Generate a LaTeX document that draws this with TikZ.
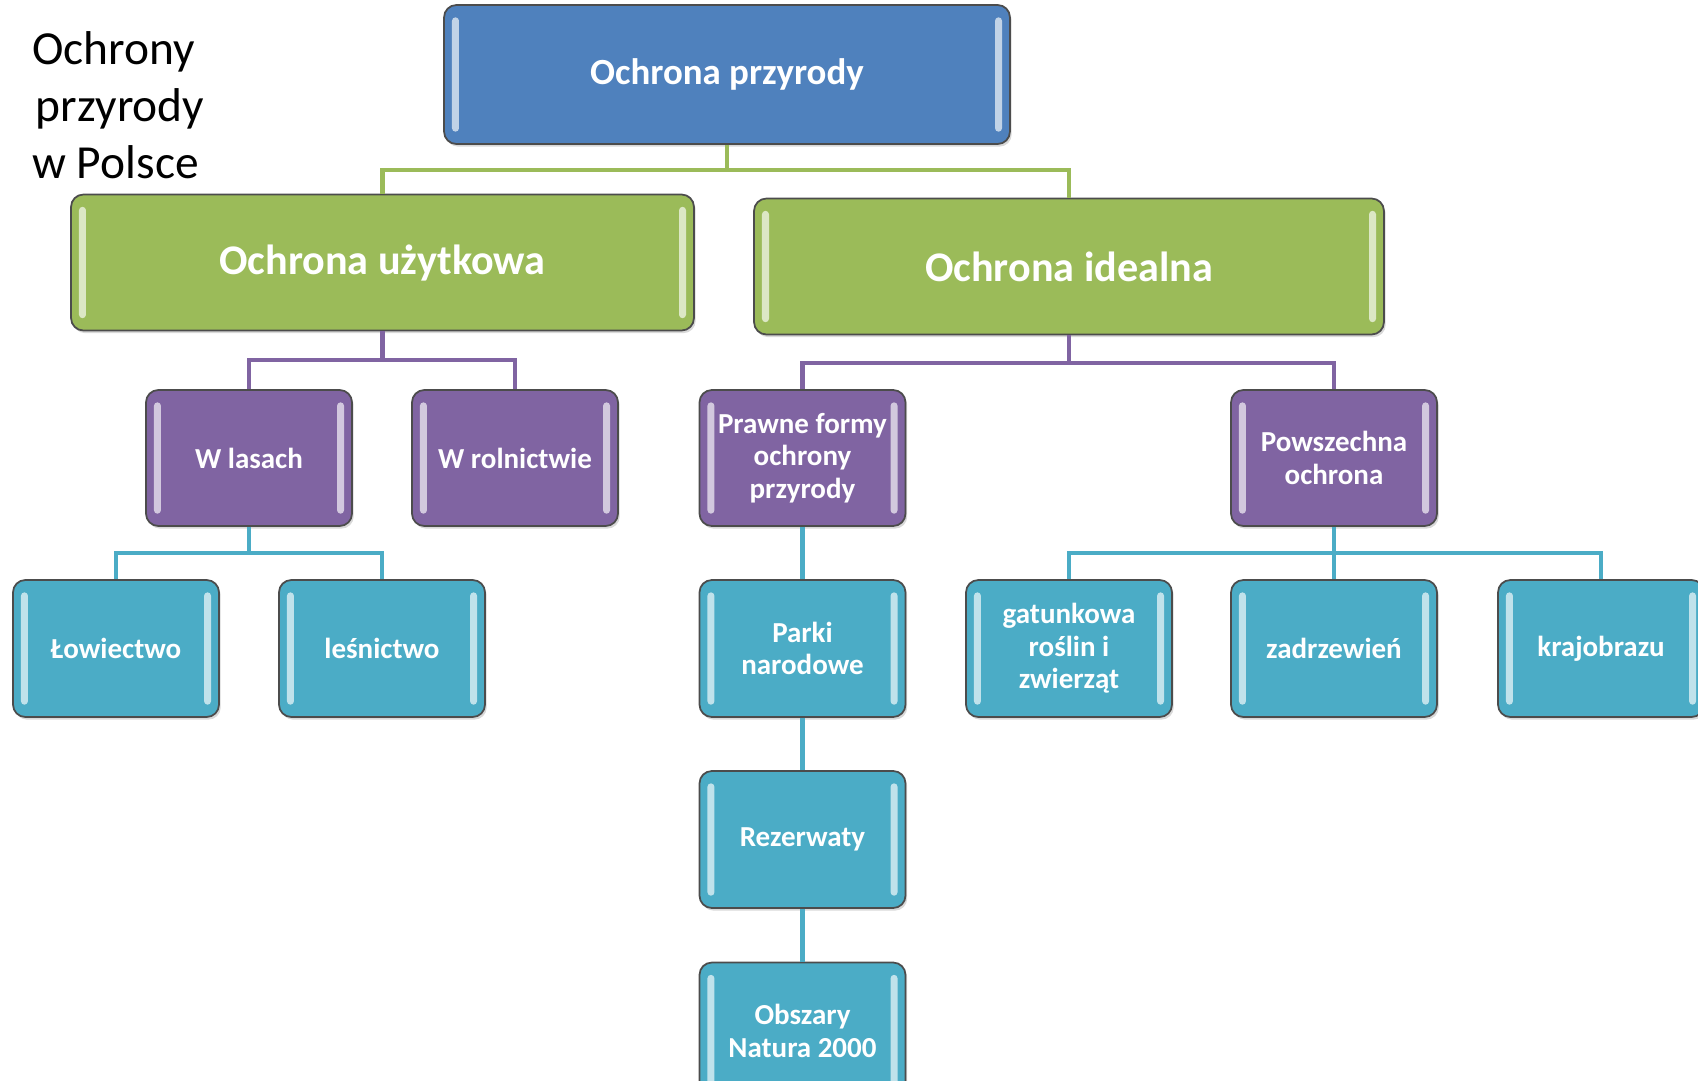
\documentclass[tikz,border=0pt]{standalone}
\usepackage{fontspec}
\setmainfont{Carlito}
\usetikzlibrary{shadows}
\definecolor{box-blue}{HTML}{4F81BD}
\definecolor{box-green}{HTML}{9BBB59}
\definecolor{box-purple}{HTML}{8064A2}
\definecolor{box-cyan}{HTML}{4BACC6}
\tikzset{
    gloss-box/.style = {draw=black!70, line width=1pt, rectangle, rounded corners=7pt, text=white, align=center, inner sep=2pt,
        drop shadow={shadow xshift=1pt, shadow yshift=-1.5pt, opacity=0.3},
        path picture={
            \fill[white, opacity=0.65, rounded corners=2pt] ([xshift=4.5pt,yshift=7pt]path picture bounding box.south west) rectangle ([xshift=8.5pt,yshift=-7pt]path picture bounding box.north west);
            \fill[white, opacity=0.65, rounded corners=2pt] ([xshift=-4.5pt,yshift=7pt]path picture bounding box.south east) rectangle ([xshift=-8.5pt,yshift=-7pt]path picture bounding box.north east);
        }},
    top-box/.style = {gloss-box, fill=box-blue, minimum width=11.32cm, minimum height=2.78cm, font=\bfseries\fontsize{21}{25}\selectfont},
    main-box/.style = {gloss-box, fill=box-green, minimum width=12.5cm, minimum height=2.72cm, font=\bfseries\fontsize{24}{28}\selectfont},
    sub-box/.style = {gloss-box, fill=box-purple, minimum width=4.12cm, minimum height=2.72cm, font=\bfseries\fontsize{16.5}{18.5}\selectfont},
    leaf-box/.style = {gloss-box, fill=box-cyan, minimum width=4.12cm, minimum height=2.74cm, font=\bfseries\fontsize{16.5}{18.5}\selectfont},
    link-green/.style = {draw=box-green, line width=2.8pt},
    link-purple/.style = {draw=box-purple, line width=2.8pt},
    link-cyan/.style = {draw=box-cyan, line width=2.8pt},
    title-text/.style = {align=left, anchor=west, inner sep=0pt, font=\fontsize{27}{32.3}\selectfont, text=black},
}
\begin{document}
\begin{tikzpicture}[x=0.02cm, y=-0.02cm]
\useasboundingbox (0,0) rectangle (1698,1080);

\node[title-text] (title) at (32,105) {Ochrony\\\hspace{2pt}przyrody\\w Polsce};

% level 1 and 2
\node[top-box] (przyroda) at (727,74.5) {Ochrona przyrody};
\node[main-box, minimum width=12.46cm] (uzytkowa) at (382.5,262.5) {Ochrona użytkowa};
\node[main-box, minimum width=12.6cm] (idealna) at (1069,266.5) {Ochrona idealna};

% level 3
\node[sub-box] (lasach) at (249,458) {W lasach};
\node[sub-box] (rolnictwo) at (515,458) {W rolnictwie};
\node[sub-box] (prawne) at (802.5,458) {Prawne formy\\ochrony\\przyrody};
\node[sub-box] (powszechna) at (1334,458) {Powszechna\\ochrona};

% level 4
\node[leaf-box] (lowiectwo) at (116,648.5) {Łowiectwo};
\node[leaf-box] (lesnictwo) at (382,648.5) {leśnictwo};
\node[leaf-box] (parki) at (802.5,648.5) {Parki\\narodowe};
\node[leaf-box] (gatunkowa) at (1069,648.5) {gatunkowa\\roślin i\\zwierząt};
\node[leaf-box] (zadrzewien) at (1334,648.5) {zadrzewień};
\node[leaf-box] (krajobrazu) at (1601,648.5) {krajobrazu};
\node[leaf-box] (rezerwaty) at (802.5,839.5) {Rezerwaty};
\node[leaf-box] (natura) at (802.5,1031) {Obszary\\Natura 2000};

% connectors
\coordinate (top-bus) at (727,170);
\draw[link-green] (przyroda.south) -- (top-bus) -| (uzytkowa.north);
\draw[link-green] (top-bus) -| (idealna.north);

\coordinate (uzytkowa-bus) at (382.5,360);
\draw[link-purple] (uzytkowa.south) -- (uzytkowa-bus) -| (lasach.north);
\draw[link-purple] (uzytkowa-bus) -| (rolnictwo.north);
\coordinate (idealna-bus) at (1069,363);
\draw[link-purple] (idealna.south) -- (idealna-bus) -| (prawne.north);
\draw[link-purple] (idealna-bus) -| (powszechna.north);

\coordinate (lasach-bus) at (249,553);
\draw[link-cyan] (lasach.south) -- (lasach-bus) -| (lowiectwo.north);
\draw[link-cyan] (lasach-bus) -| (lesnictwo.north);
\coordinate (powszechna-bus) at (1334,553);
\draw[link-cyan] (powszechna.south) -- (zadrzewien.north);
\draw[link-cyan] (powszechna-bus) -| (gatunkowa.north);
\draw[link-cyan] (powszechna-bus) -| (krajobrazu.north);
\draw[link-cyan] (prawne) -- (parki);
\draw[link-cyan] (parki) -- (rezerwaty);
\draw[link-cyan] (rezerwaty) -- (natura);
\end{tikzpicture}
\end{document}
